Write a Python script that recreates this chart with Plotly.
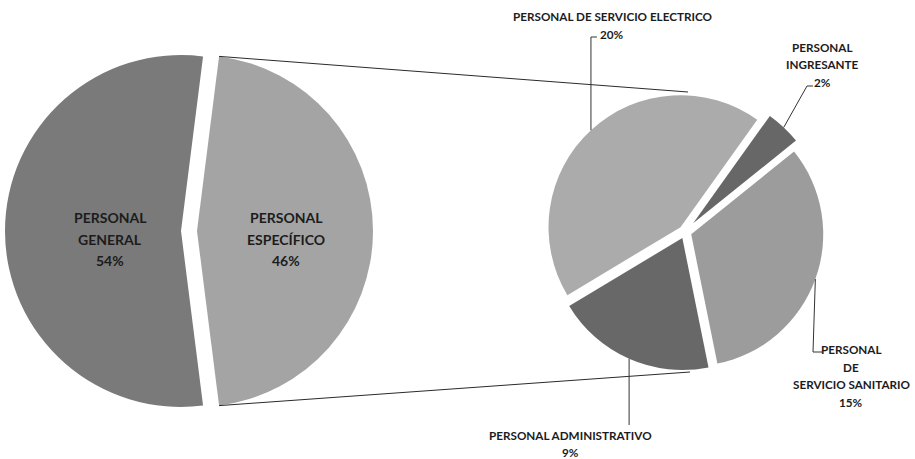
import math
import plotly.graph_objects as go

# ---------------- data ----------------
main_labels = ["PERSONAL GENERAL", "PERSONAL ESPECÍFICO"]
main_values = [54, 46]
sub_labels = ["PERSONAL DE SERVICIO ELECTRICO", "PERSONAL INGRESANTE",
              "PERSONAL DE SERVICIO SANITARIO", "PERSONAL ADMINISTRATIVO"]
sub_values = [20, 2, 15, 9]

# ---------------- style / layout constants ----------------
W, H = 915, 459
main_colors = ["#7a7a7a", "#a4a4a4"]
sub_colors = ["#ababab", "#676767", "#9c9c9c", "#686868"]
FONT = "Lato"
TXT = "#1c1c1c"

L_cx, L_cy, L_r = 189, 231, 176
L_pull = 8 / 176
R_cx, R_cy, R_r = 685, 232, 132
R_pulls = [0.05, 0.09, 0.05, 0.05]
R_rot = 239


def px(x):
    return x / W


def py(y):
    return 1 - y / H


def domain(cx, cy, r, maxpull):
    half = r * (1 + maxpull)
    return dict(x=[px(cx - half), px(cx + half)], y=[py(cy + half), py(cy - half)])


def polar(cx, cy, rad, ang):
    a = math.radians(ang)
    return cx + rad * math.sin(a), cy - rad * math.cos(a)


tot_main = sum(main_values)
L_rot = 270 - main_values[0] / tot_main * 180
tot_sub = sum(sub_values)

fig = go.Figure()
fig.add_trace(go.Pie(
    labels=main_labels, values=main_values, sort=False, direction="clockwise",
    rotation=L_rot, pull=[L_pull, L_pull], textinfo="none",
    marker=dict(colors=main_colors, line=dict(width=0)),
    domain=domain(L_cx, L_cy, L_r, L_pull), showlegend=False, hoverinfo="label+percent",
))
fig.add_trace(go.Pie(
    labels=sub_labels, values=sub_values, sort=False, direction="clockwise",
    rotation=R_rot, pull=R_pulls, textinfo="none",
    marker=dict(colors=sub_colors, line=dict(width=0)),
    domain=domain(R_cx, R_cy, R_r, max(R_pulls)), showlegend=False, hoverinfo="label+value",
))

shapes = []


def seg(p0, p1, color="#2a2a2a", w=1):
    shapes.append(dict(type="line", xref="paper", yref="paper",
                       x0=px(p0[0]), y0=py(p0[1]), x1=px(p1[0]), y1=py(p1[1]),
                       line=dict(color=color, width=w)))


# connector lines between the pies (from the exploded slice edges to top/bottom of second pie)
a0 = L_rot + main_values[0] / tot_main * 360
a1 = a0 + main_values[1] / tot_main * 360
bis = (a0 + a1) / 2
sx, sy = polar(0, 0, L_pull * L_r, bis)
top_l = polar(L_cx + sx, L_cy + sy, L_r, a0)
bot_l = polar(L_cx + sx, L_cy + sy, L_r, a1)
seg(top_l, (R_cx + 3, R_cy - R_r - 8))
seg(bot_l, (R_cx + 5, R_cy + R_r + 8))

# leader lines from each sub-slice
starts = []
acc = R_rot
for v, p in zip(sub_values, R_pulls):
    span = v / tot_sub * 360
    b = acc + span / 2
    starts.append(polar(R_cx, R_cy, R_r * (1 + p), b))
    acc += span

elbows = [
    [(None, 37), (6, 37)],
    [(807, 86), (813, 86)],
    [(813, 352), (822, 352)],
    [(None, 425)],
]
for st, el in zip(starts, elbows):
    pts = [st]
    for (ex, ey) in el:
        if ex is None:
            ex = st[0]
        elif ex < 50:
            ex = st[0] + ex
        pts.append((ex, ey))
    for i in range(len(pts) - 1):
        seg(pts[i], pts[i + 1], color="#333333")

annotations = []


def label(lines, cx, ytop, step, size):
    for i, t in enumerate(lines):
        annotations.append(dict(
            x=px(cx), y=py(ytop + i * step), xref="paper", yref="paper",
            text="<b>" + t + "</b>", showarrow=False, xanchor="center", yanchor="middle",
            font=dict(family=FONT, size=size, color=TXT)))


# main pie labels
label(["PERSONAL", "GENERAL", f"{main_values[0]}%"], 110, 218, 21, 14)
label(["PERSONAL", "ESPECÍFICO", f"{main_values[1]}%"], 286, 218, 21, 14)

# sub pie labels
label(["PERSONAL DE SERVICIO ELECTRICO", f"{sub_values[0]}%"], 612, 16, 18, 11.7)
label(["PERSONAL", "INGRESANTE", f"{sub_values[1]}%"], 822, 47, 17.5, 11.7)
label(["PERSONAL", "DE", "SERVICIO SANITARIO", f"{sub_values[2]}%"], 851, 349, 17.7, 11.7)
label(["PERSONAL ADMINISTRATIVO", f"{sub_values[3]}%"], 570, 435, 17, 11.7)

fig.update_layout(
    width=W, height=H, margin=dict(l=0, r=0, t=0, b=0),
    paper_bgcolor="white", plot_bgcolor="white",
    shapes=shapes, annotations=annotations, showlegend=False,
)
fig.write_html("out.html", config={"displayModeBar": False},
               post_script="document.body.style.margin='0';document.body.style.padding='0';")
